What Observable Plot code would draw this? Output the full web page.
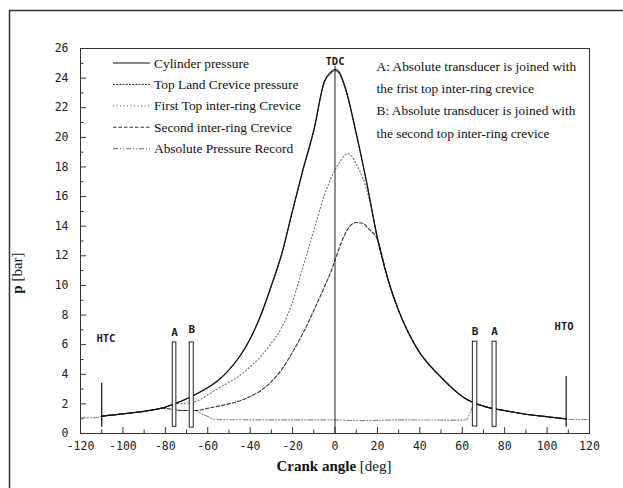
<!DOCTYPE html>
<html>
<head>
<meta charset="utf-8">
<script src="https://cdn.jsdelivr.net/npm/d3@7"></script>
<script src="https://cdn.jsdelivr.net/npm/@observablehq/plot@0.6"></script>
<style>
  html, body { margin: 0; padding: 0; background: #fff; }
  #chart { position: relative; width: 623px; height: 488px; }
</style>
</head>
<body>
<div id="chart"></div>
<script>
// ---------------- data ----------------
const seriesNames = ["Cylinder pressure", "Top Land Crevice pressure", "First Top inter-ring Crevice", "Second inter-ring Crevice", "Absolute Pressure Record"];

const cylAngle = [-110,-100,-90,-80,-75,-70,-65,-60,-55,-50,-45,-40,-35,-30,-25,-20,-15,-10,-5,-2,0,2,5,10,15,20,25,30,35,40,45,50,55,60,65,70,75,80,90,100,109];
const cylP     = [1.17,1.33,1.5,1.78,2.05,2.35,2.7,3.1,3.6,4.3,5.2,6.4,8.0,10.0,12.2,15.1,17.9,20.5,23.8,24.4,24.6,24.4,23.3,20.3,16.9,13.2,10.4,8.3,6.7,5.45,4.55,3.8,3.1,2.5,2.1,1.85,1.67,1.55,1.3,1.13,0.99];
const topLandP = [1.17,1.33,1.5,1.78,2.04,2.33,2.68,3.08,3.58,4.28,5.18,6.38,7.95,9.95,12.15,15.0,17.8,20.4,23.7,24.3,24.5,24.3,23.2,20.2,16.9,13.2,10.4,8.3,6.7,5.45,4.55,3.8,3.1,2.5,2.1,1.85,1.67,1.55,1.3,1.13,0.99];

const firstAngle = [-110,-100,-90,-80,-75,-70,-65,-60,-55,-50,-45,-40,-35,-30,-25,-20,-15,-10,-5,-2,0,3,6,8,10,13,16,20,25,30,35,40,45,50,55,60,65,70,75,80,90,100,109];
const firstP     = [1.17,1.33,1.5,1.78,2.0,2.05,2.2,2.6,3.05,3.45,3.9,4.5,5.2,6.1,7.2,8.9,11.3,13.7,16.1,17.2,17.8,18.5,18.9,18.7,18.2,17.3,15.9,13.2,10.4,8.3,6.7,5.45,4.55,3.8,3.1,2.5,2.1,1.85,1.67,1.55,1.3,1.13,0.99];

const secondAngle = [-110,-100,-90,-80,-76,-70,-66,-60,-55,-50,-45,-40,-35,-30,-25,-20,-15,-10,-5,-2,0,3,6,10,13,16,20,25,30,35,40,45,50,55,60,65,70,75,80,90,100,109];
const secondP     = [1.17,1.33,1.5,1.7,1.6,1.55,1.55,1.7,1.85,2.0,2.2,2.5,2.9,3.5,4.35,5.5,6.8,8.3,9.9,10.9,11.7,12.9,13.8,14.25,14.2,13.8,13.1,10.4,8.3,6.7,5.45,4.55,3.8,3.1,2.5,2.1,1.85,1.67,1.55,1.3,1.13,0.99];

const absAngle = [-120,-112,-110,-100,-90,-80,-76,-75,-70,-66,-63,-60,-57,-50,-30,0,10,15,30,60,62,64,66,70,75,80,90,100,109,110,120];
const absP     = [1.05,1.08,1.17,1.33,1.5,1.78,1.95,1.6,1.55,1.55,1.35,1.15,0.97,0.93,0.92,0.92,0.87,0.87,0.92,0.9,0.95,1.5,2.05,1.85,1.67,1.55,1.3,1.13,0.99,0.95,0.95];

// valve event markers
const eventAngle = [-110, 109];
const eventTop   = [3.4, 3.85];
const eventBase  = [0.43, 0.43];
const eventLabel = ["HTC", "HTO"];
const eventLabelAngle = [-108, 108];
const eventLabelP = [6.4, 7.2];

// transducer boxes
const boxLabel = ["A", "B", "B", "A"];
const boxX1 = [-76.5, -68.5, 65.0, 74.3];
const boxX2 = [-74.8, -66.6, 67.1, 76.2];
const boxY1 = [0.45, 0.4, 0.47, 0.45];
const boxY2 = [6.15, 6.15, 6.2, 6.2];
const boxLabelP = [6.85, 7.0, 6.9, 6.9];

const tdcAngle = 0, tdcTop = 24.8;

const xMajor = [-120,-100,-80,-60,-40,-20,0,20,40,60,80,100,120];
const xMinor = d3.range(-110, 120, 20);
const yMajor = [0,2,4,6,8,10,12,14,16,18,20,22,24,26];
const yMinor = d3.range(1, 26, 2);

const notes = ["A: Absolute transducer is joined with", "the frist top inter-ring crevice", "B: Absolute transducer is joined with", "the second top inter-ring crevice"];

// ---------------- build ----------------
const W = 623, H = 488, ML = 80, MR = 34, MT = 48, MB = 55;
const xDom = [-120, 120], yDom = [0, 26];
// tick lengths converted from pixels to data units
const pxX = (xDom[1] - xDom[0]) / (W - ML - MR);
const pxY = (yDom[1] - yDom[0]) / (H - MT - MB);

const rows = (A, P) => A.map((a, i) => ({a, p: P[i]}));
const boxes = boxLabel.map((l, i) => ({l, x1: boxX1[i], x2: boxX2[i], y1: boxY1[i], y2: boxY2[i], lp: boxLabelP[i]}));
const events = eventAngle.map((a, i) => ({a, y1: eventBase[i], y2: eventTop[i], l: eventLabel[i], la: eventLabelAngle[i], lp: eventLabelP[i]}));

const styles = [
  {stroke: "#111", strokeWidth: 1.2, strokeDasharray: null},
  {stroke: "#222", strokeWidth: 1, strokeDasharray: "2,1.2"},
  {stroke: "#777", strokeWidth: 1.2, strokeDasharray: "1,2.5"},
  {stroke: "#333", strokeWidth: 1.1, strokeDasharray: "3.5,2"},
  {stroke: "#888", strokeWidth: 1.1, strokeDasharray: "5,2,1,2,1,2"}
];
const seriesData = [rows(cylAngle, cylP), rows(cylAngle, topLandP), rows(firstAngle, firstP), rows(secondAngle, secondP), rows(absAngle, absP)];

const mono = "DejaVu Sans Mono";
const serif = "Liberation Serif";

const plot = Plot.plot({
  width: W,
  height: H,
  marginLeft: ML,
  marginRight: MR,
  marginTop: MT,
  marginBottom: MB,
  style: {fontFamily: mono, fontSize: "11.5px", color: "#222", background: "#fff"},
  x: {domain: xDom},
  y: {domain: yDom},
  marks: [
    Plot.axisX({ticks: xMajor, tickSize: 0, tickPadding: 8, tickFormat: d => String(d), label: null}),
    Plot.axisY({ticks: yMajor, tickSize: 0, tickPadding: 12, tickFormat: d => String(d), label: null}),
    // inward ticks
    Plot.ruleX(xMajor, {x: d => d, y1: yDom[0], y2: yDom[0] + 6 * pxY, stroke: "#333"}),
    Plot.ruleX(xMinor, {x: d => d, y1: yDom[0], y2: yDom[0] + 3.5 * pxY, stroke: "#333"}),
    Plot.ruleY(yMajor, {y: d => d, x1: xDom[0], x2: xDom[0] + 6 * pxX, stroke: "#333"}),
    Plot.ruleY(yMinor, {y: d => d, x1: xDom[0], x2: xDom[0] + 3.5 * pxX, stroke: "#333"}),
    ...seriesData.map((d, i) => Plot.line(d, {x: "a", y: "p", ...styles[i], curve: "monotone-x"})).reverse(),
    Plot.ruleX([tdcAngle], {y1: 0, y2: tdcTop, stroke: "#222", strokeWidth: 1}),
    Plot.ruleX(events, {x: "a", y1: "y1", y2: "y2", stroke: "#222", strokeWidth: 1.3}),
    Plot.rect(boxes, {x1: "x1", x2: "x2", y1: "y1", y2: "y2", fill: "#fff", stroke: "#222", strokeWidth: 1}),
    Plot.text(boxes, {x: d => (d.x1 + d.x2) / 2, y: "lp", text: "l", fontFamily: mono, fontSize: 11, fontWeight: "bold"}),
    Plot.text(events, {x: "la", y: "lp", text: "l", fontFamily: mono, fontSize: 10.5, fontWeight: "bold"}),
    Plot.text(["TDC"], {x: [tdcAngle], frameAnchor: "top", dy: 9, fontFamily: mono, fontSize: 10.5, fontWeight: "bold"}),
    Plot.text([notes.join("\n")], {frameAnchor: "top-left", dx: 296, dy: 7, textAnchor: "start", lineAnchor: "top", lineHeight: 1.65, fontFamily: serif, fontSize: 13.4, fill: "#111"}),
    Plot.frame({stroke: "#333", strokeWidth: 1})
  ]
});

document.getElementById("chart").appendChild(plot);

// ---------------- legend, axis titles, outer frame ----------------
const svg = d3.select(plot);
const leg = svg.append("g").attr("text-anchor", "start");
seriesNames.forEach((name, i) => {
  const y = 63 + i * 21.4;
  const s = styles[i];
  leg.append("line").attr("x1", 113).attr("x2", 150).attr("y1", y).attr("y2", y)
    .attr("stroke", s.stroke).attr("stroke-width", s.strokeWidth)
    .attr("stroke-dasharray", s.strokeDasharray);
  leg.append("text").attr("x", 154).attr("y", y).attr("dy", "0.35em").attr("text-anchor", "start")
    .attr("font-family", serif).attr("font-size", 13.4).attr("fill", "#111").text(name);
});

const xt = svg.append("text").attr("x", 334).attr("y", 471).attr("text-anchor", "middle")
  .attr("font-family", serif).attr("font-size", 15).attr("fill", "#111");
xt.append("tspan").attr("font-weight", "bold").text("Crank angle ");
xt.append("tspan").text("[deg]");

const yt = svg.append("text").attr("transform", "translate(22,273) rotate(-90)").attr("text-anchor", "middle")
  .attr("font-family", serif).attr("font-size", 15).attr("fill", "#111");
yt.append("tspan").attr("font-weight", "bold").text("p ");
yt.append("tspan").text("[bar]");

svg.append("path").attr("d", "M9.5,488V10.5H623").attr("fill", "none").attr("stroke", "#333").attr("stroke-width", 1.5);
</script>
</body>
</html>
